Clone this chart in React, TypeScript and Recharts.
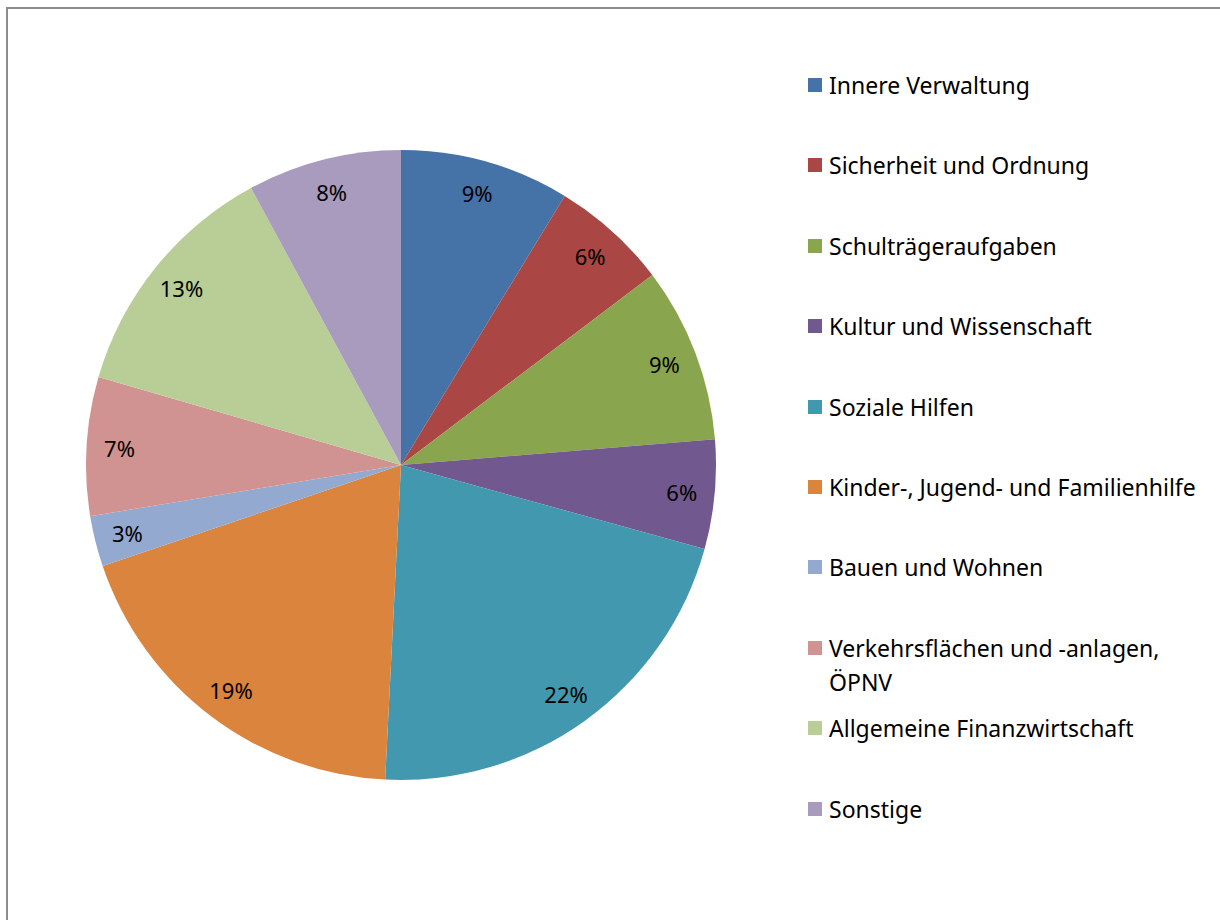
import React from "react";
import { PieChart, Pie, Cell, Legend } from "recharts";

const categories = [
  "Innere Verwaltung",
  "Sicherheit und Ordnung",
  "Schulträgeraufgaben",
  "Kultur und Wissenschaft",
  "Soziale Hilfen",
  "Kinder-, Jugend- und Familienhilfe",
  "Bauen und Wohnen",
  "Verkehrsflächen und -anlagen, ÖPNV",
  "Allgemeine Finanzwirtschaft",
  "Sonstige",
];

const shares = [8.7, 6.0, 9.0, 5.6, 21.5, 19.0, 2.6, 7.1, 12.6, 7.9];

const colors = [
  "#4572A7",
  "#AA4643",
  "#89A54E",
  "#71588F",
  "#4198AF",
  "#DB843D",
  "#93A9CF",
  "#D19392",
  "#B9CD96",
  "#A99BBD",
];

const data = categories.map((name, i) => ({ name, value: shares[i] }));

const FONT = "'Noto Sans', sans-serif";
const RAD = Math.PI / 180;

function renderLabel(props: any) {
  const { cx, cy, midAngle, outerRadius, percent } = props;
  const r = outerRadius - 33;
  const x = cx + r * Math.cos(-midAngle * RAD);
  const y = cy + r * Math.sin(-midAngle * RAD);
  return (
    <text
      x={x}
      y={y}
      textAnchor="middle"
      dominantBaseline="central"
      fill="#000"
      fontSize={22}
      fontFamily={FONT}
    >
      {`${Math.round(percent * 100)}%`}
    </text>
  );
}

function LegendList() {
  return (
    <div style={{ position: "relative", width: 400, fontFamily: FONT }}>
      {data.map((d, i) => (
        <div
          key={d.name}
          style={{
            position: "absolute",
            left: 0,
            top: i * 80.4,
            display: "flex",
            alignItems: "flex-start",
          }}
        >
          <span
            style={{
              width: 14,
              height: 14,
              background: colors[i],
              marginTop: 10,
              flex: "none",
            }}
          />
          <span
            style={{
              marginLeft: 7,
              fontSize: 23,
              lineHeight: "34px",
              color: "#000",
              width: 378,
            }}
          >
            {d.name}
          </span>
        </div>
      ))}
    </div>
  );
}

export default function App() {
  return (
    <div
      style={{
        position: "fixed",
        left: 0,
        top: 0,
        width: 1220,
        height: 920,
        overflow: "hidden",
        background: "#fff",
      }}
    >
      <div
        style={{
          position: "absolute",
          left: 6,
          top: 7,
          width: 1240,
          height: 940,
          borderLeft: "2px solid #8c8c8c",
          borderTop: "2px solid #8c8c8c",
        }}
      />
      <div style={{ position: "absolute", left: 0, top: 0 }}>
        <PieChart
          width={1220}
          height={920}
          margin={{ top: 0, right: 0, bottom: 0, left: 0 }}
        >
          <Pie
            data={data}
            dataKey="value"
            nameKey="name"
            cx={401}
            cy={465}
            outerRadius={315}
            startAngle={90}
            endAngle={-270}
            stroke="none"
            label={renderLabel}
            labelLine={false}
            isAnimationActive={false}
          >
            {data.map((d, i) => (
              <Cell key={d.name} fill={colors[i]} />
            ))}
          </Pie>
          <Legend
            content={() => <LegendList />}
            wrapperStyle={{ position: "absolute", left: 808, top: 68, width: 400 }}
          />
        </PieChart>
      </div>
    </div>
  );
}
